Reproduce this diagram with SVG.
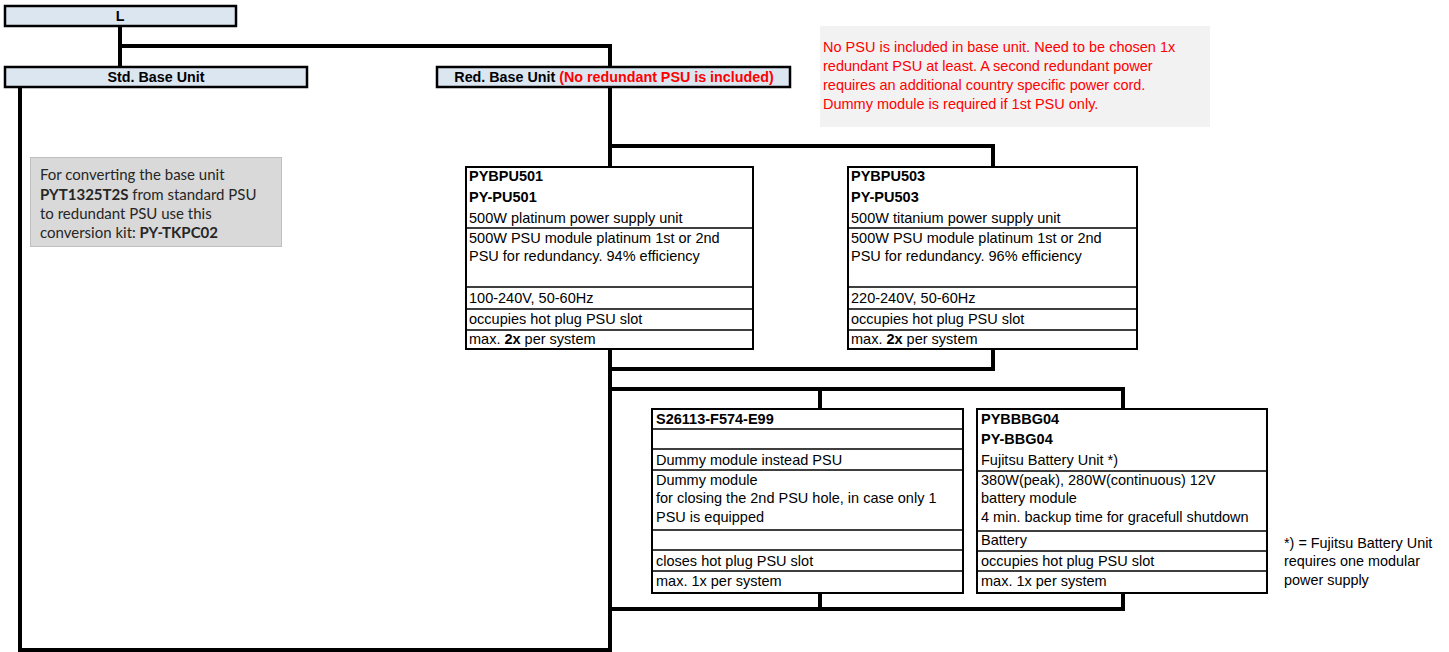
<svg xmlns="http://www.w3.org/2000/svg" width="1449" height="652" viewBox="0 0 1449 652">
<style>
text{font-family:"Liberation Sans",Arial,sans-serif;font-size:14.5px;fill:#000}
.b{font-weight:bold}
.h{font-weight:bold;font-size:14.3px}
.red{fill:#ff0000}
.head{fill:#dce6f1;stroke:#000;stroke-width:2.5}
.box{fill:#fff;stroke:#000;stroke-width:2}
.row{stroke:#000;stroke-width:1.5}
.con{fill:none;stroke:#000;stroke-width:4;stroke-linecap:square}
.cal{font-family:Lato,"Liberation Sans",sans-serif;font-size:15px;fill:#262626}
.fn{font-size:14.4px}
</style>
<rect width="1449" height="652" fill="#fff"/>
<g id="connectors">
<path class="con" d="M120 26V67M120 46H610V67"/>
<path class="con" d="M20 87V650H610V87"/>
<path class="con" d="M610 146H993V167"/>
<path class="con" d="M993 349V369H610"/>
<path class="con" d="M610 389H1123V409M820 389V409"/>
<path class="con" d="M820 593V609M1123 593V609M610 609H1123"/>
</g>
<g id="node-L">
<rect class="head" x="5" y="6" width="231" height="20"/>
<text class="h" x="120" y="21" text-anchor="middle">L</text>
</g>
<g id="node-std">
<rect class="head" x="5" y="67" width="302" height="20"/>
<text class="h" x="156" y="82" text-anchor="middle">Std. Base Unit</text>
</g>
<g id="node-red">
<rect class="head" x="437" y="67" width="353" height="20"/>
<text class="h" x="614" y="82" text-anchor="middle">Red. Base Unit <tspan class="red">(No redundant PSU is included)</tspan></text>
</g>
<g id="note-red">
<rect x="820" y="26" width="390" height="101" fill="#f2f2f2"/>
<text class="red" x="823" y="52">No PSU is included in base unit. Need to be chosen 1x</text>
<text class="red" x="823" y="71">redundant PSU at least.  A second redundant power</text>
<text class="red" x="823" y="90">requires an additional country specific power cord.</text>
<text class="red" x="823" y="109">Dummy module is required if 1st PSU only.</text>
</g>
<g id="note-grey">
<rect x="30.5" y="157.5" width="251" height="89" fill="#d9d9d9" stroke="#bfbfbf" stroke-width="1"/>
<text class="cal" x="40" y="180">For converting the base unit</text>
<text class="cal" x="40" y="200"><tspan font-weight="bold">PYT1325T2S</tspan> from standard PSU</text>
<text class="cal" x="40" y="219">to redundant PSU use this</text>
<text class="cal" x="40" y="238">conversion kit: <tspan font-weight="bold">PY-TKPC02</tspan></text>
</g>
<g id="node-pu501">
<rect class="box" x="466" y="167" width="287" height="182"/>
<path class="row" d="M466 228H753M466 287H753M466 309H753M466 330H753"/>
<text class="b" x="469" y="181">PYBPU501</text>
<text class="b" x="469" y="202">PY-PU501</text>
<text x="469" y="223">500W platinum power supply unit</text>
<text x="469" y="243">500W PSU module platinum 1st or 2nd</text>
<text x="469" y="261">PSU for redundancy. 94% efficiency</text>
<text x="469" y="303">100-240V, 50-60Hz</text>
<text x="469" y="324">occupies hot plug PSU slot</text>
<text x="469" y="344">max. <tspan class="b">2x</tspan> per system</text>
</g>
<g id="node-pu503">
<rect class="box" x="848" y="167" width="289" height="182"/>
<path class="row" d="M848 228H1137M848 287H1137M848 309H1137M848 330H1137"/>
<text class="b" x="851" y="181">PYBPU503</text>
<text class="b" x="851" y="202">PY-PU503</text>
<text x="851" y="223">500W titanium power supply unit</text>
<text x="851" y="243">500W PSU module platinum 1st or 2nd</text>
<text x="851" y="261">PSU for redundancy. 96% efficiency</text>
<text x="851" y="303">220-240V, 50-60Hz</text>
<text x="851" y="324">occupies hot plug PSU slot</text>
<text x="851" y="344">max. <tspan class="b">2x</tspan> per system</text>
</g>
<g id="node-dummy">
<rect class="box" x="652" y="409" width="311" height="184"/>
<path class="row" d="M652 429H963M652 449H963M652 470H963M652 530H963M652 550H963M652 571H963"/>
<text class="b" x="656" y="424">S26113-F574-E99</text>
<text x="656" y="465">Dummy module instead PSU</text>
<text x="656" y="485">Dummy module</text>
<text x="656" y="503">for closing the 2nd PSU hole, in case only 1</text>
<text x="656" y="522">PSU is equipped</text>
<text x="656" y="566">closes hot plug PSU slot</text>
<text x="656" y="586">max. 1x per system</text>
</g>
<g id="node-battery">
<rect class="box" x="977" y="409" width="290" height="184"/>
<path class="row" d="M977 471H1267M977 531H1267M977 551H1267M977 571H1267"/>
<text class="b" x="981" y="424">PYBBBG04</text>
<text class="b" x="981" y="444">PY-BBG04</text>
<text x="981" y="465">Fujitsu Battery Unit *)</text>
<text x="981" y="485">380W(peak), 280W(continuous) 12V</text>
<text x="981" y="503">battery module</text>
<text x="981" y="522">4 min. backup time for gracefull shutdown</text>
<text x="981" y="545">Battery</text>
<text x="981" y="566">occupies hot plug PSU slot</text>
<text x="981" y="586">max. 1x per system</text>
</g>
<g id="footnote">
<text class="fn" x="1284" y="548">*) = Fujitsu Battery Unit</text>
<text class="fn" x="1284" y="566">requires one modular</text>
<text class="fn" x="1284" y="585">power supply</text>
</g>
</svg>
